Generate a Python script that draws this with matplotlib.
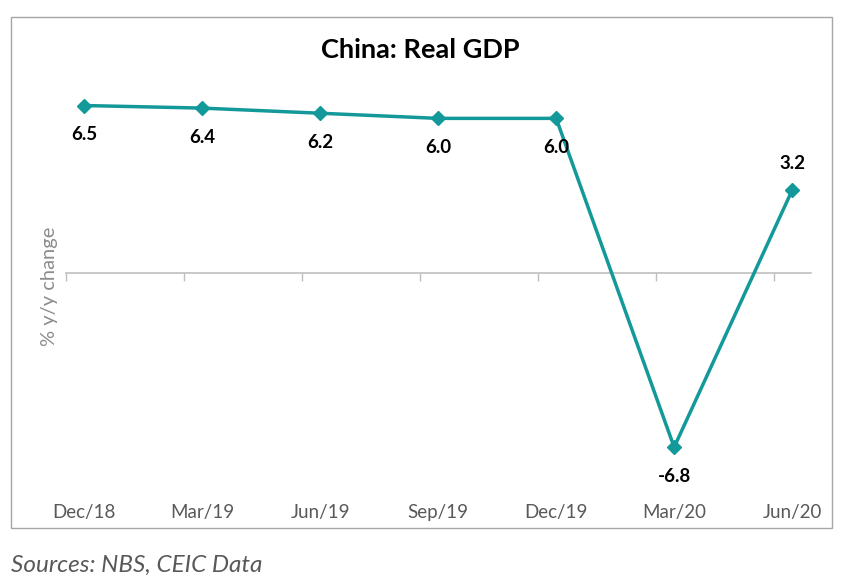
import matplotlib
matplotlib.use("Agg")
import matplotlib.pyplot as plt
from matplotlib.patches import Rectangle
import numpy as np

categories = ["Dec/18", "Mar/19", "Jun/19", "Sep/19", "Dec/19", "Mar/20", "Jun/20"]
gdp = [6.5, 6.4, 6.2, 6.0, 6.0, -6.8, 3.2]
labels = ["6.5", "6.4", "6.2", "6.0", "6.0", "-6.8", "3.2"]
label_above = [False, False, False, False, False, False, True]

plt.rcParams['font.family'] = ['Lato', 'DejaVu Sans']

W, H = 851, 588
fig = plt.figure(figsize=(W / 100, H / 100), dpi=100)
fig.patch.set_facecolor("white")

# outer border
fig.patches.append(Rectangle((11 / W, 1 - 528 / H), (832 - 11) / W, (528 - 17) / H,
                             transform=fig.transFigure, fill=False,
                             edgecolor="#a6a6a6", linewidth=1.0))

left, right, top, bottom = 66, 811, 67, 478
ax = fig.add_axes([left / W, 1 - bottom / H, (right - left) / W, (bottom - top) / H])
ax.set_facecolor("none")

x = np.arange(len(categories))
color = "#14999a"
ax.plot(x, gdp, color=color, linewidth=2.5, marker="D", markersize=7,
        markerfacecolor=color, markeredgecolor=color, zorder=3)

for xi, v, lab, above in zip(x, gdp, labels, label_above):
    ax.annotate(lab, (xi, v), xytext=(0, 19.5 if above else -21),
                textcoords="offset points", ha="center", va="center",
                fontsize=13.5, fontweight="bold", color="black")

off = 0.155
ax.set_xlim(-off, len(categories) - 1 + 0.16)
ax.set_ylim(-8, 8)

for s in ["top", "right", "left"]:
    ax.spines[s].set_visible(False)
ax.spines["bottom"].set_position(("data", 0))
ax.spines["bottom"].set_color("#bfbfbf")
ax.spines["bottom"].set_linewidth(1.2)
ax.set_yticks([])
ax.set_xticks(x)
ax.tick_params(axis="x", which="major", length=0, labelbottom=False)
ax.set_xticks(x - off, minor=True)
ax.tick_params(axis="x", which="minor", length=6, width=1, color="#bfbfbf", direction="out")

sec = ax.secondary_xaxis("bottom")
sec.spines["bottom"].set_visible(False)
sec.set_xticks(x)
sec.set_xticklabels(categories)
sec.tick_params(length=0, pad=19, labelsize=13.5, labelcolor="#595959")

fig.text(420 / W, 1 - 50 / H, "China: Real GDP", ha="center", va="center",
         fontsize=19.5, fontweight="bold", color="black")
fig.text(50 / W, 1 - 286 / H, "% y/y change", ha="center", va="center",
         rotation=90, fontsize=14.5, color="#8c8c8c")
fig.text(11 / W, 1 - 565 / H, "Sources: NBS, CEIC Data", ha="left", va="center",
         fontsize=17.5, fontstyle="italic", color="#595959")

fig.savefig("out.png", dpi=100, facecolor="white")
